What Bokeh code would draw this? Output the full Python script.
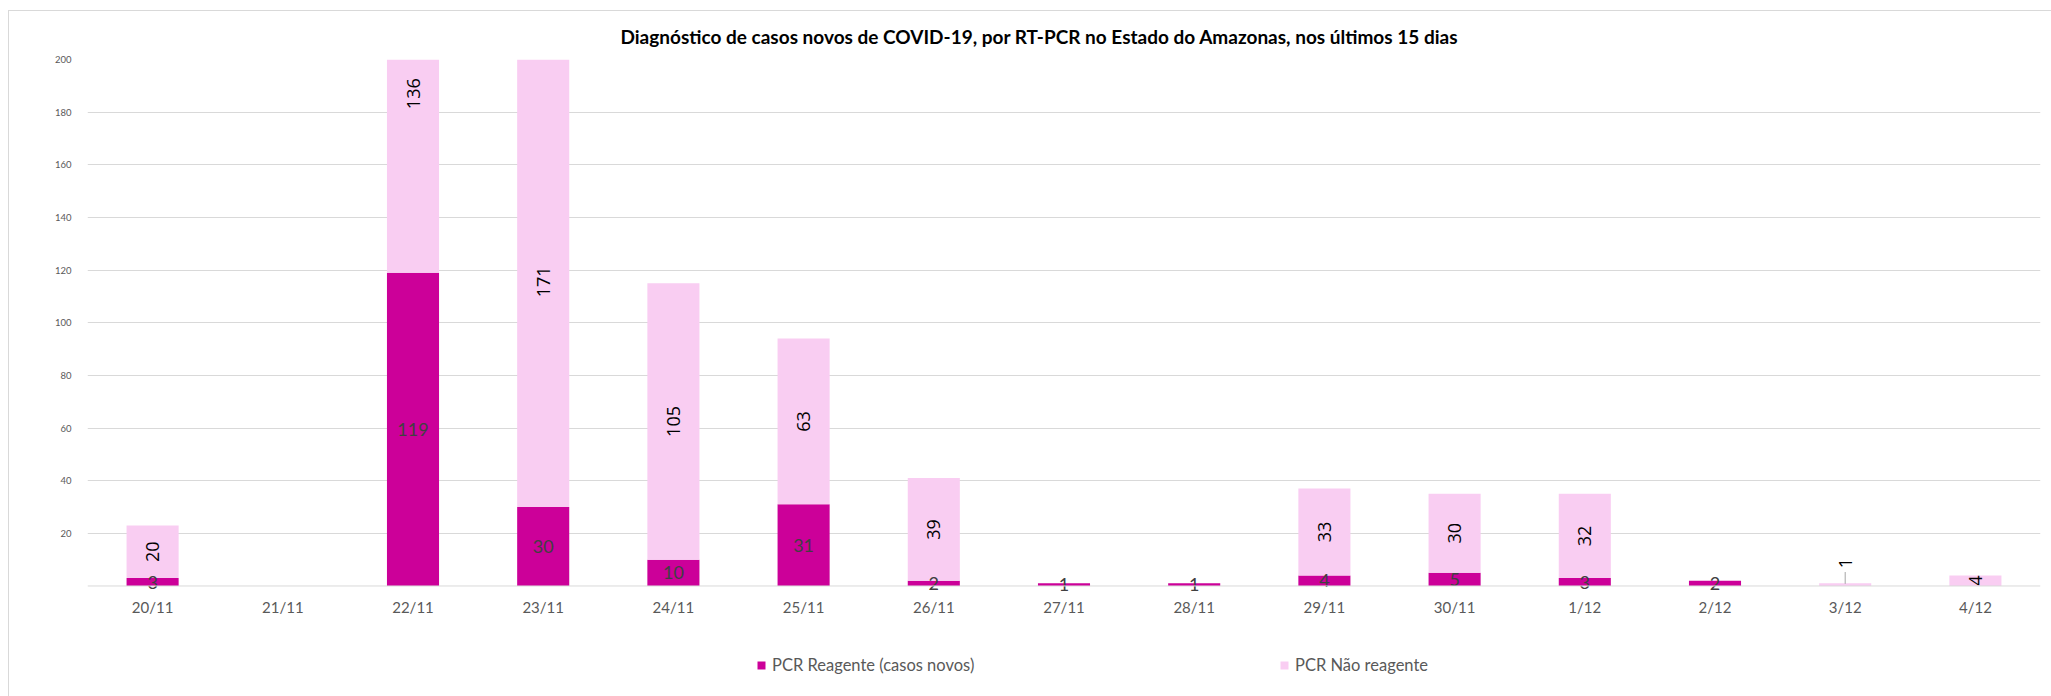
from math import pi
from bokeh.plotting import figure
from bokeh.layouts import column
from bokeh.models import (ColumnDataSource, FactorRange, Range1d, FixedTicker, Title,
                          Legend, LegendItem, Span)
from bokeh.core.properties import value
from bokeh.embed import file_html
from bokeh.resources import INLINE

# ---- data ----
dates = ["20/11", "21/11", "22/11", "23/11", "24/11", "25/11", "26/11", "27/11",
         "28/11", "29/11", "30/11", "1/12", "2/12", "3/12", "4/12"]
reagente = [3, 0, 119, 30, 10, 31, 2, 1, 1, 4, 5, 3, 2, 0, 0]
nao_reagente = [20, 0, 136, 171, 105, 63, 39, 0, 0, 33, 30, 32, 0, 1, 4]
y_ticks = [20, 40, 60, 80, 100, 120, 140, 160, 180, 200]
series_names = ["PCR Reagente (casos novos)", "PCR Não reagente"]
title_text = "Diagnóstico de casos novos de COVID-19, por RT-PCR no Estado do Amazonas, nos últimos 15 dias"

# ---- style ----
C_REAG = "#CC0099"
C_NAO = "#F9CDF2"
GRID = "#D9D9D9"
TXT = "#595959"
FONT = "Lato"

W = 2042
p = figure(x_range=FactorRange(*dates), y_range=Range1d(-4, 200),
           width=W, height=629, output_backend="svg", toolbar_location=None,
           min_border_left=78, min_border_right=11, min_border_top=47, min_border_bottom=44)
p.title.visible = False
p.outline_line_color = None
p.background_fill_color = "white"
p.border_fill_color = "white"

src = ColumnDataSource(dict(dates=dates, reagente=reagente, nao=nao_reagente))
rs = p.vbar_stack(["reagente", "nao"], x="dates", width=0.4, source=src,
                  color=[C_REAG, C_NAO], line_color=None)

# axes
p.xaxis.axis_line_color = None
p.xaxis.major_tick_line_color = None
p.xaxis.minor_tick_line_color = None
p.xaxis.major_label_text_color = TXT
p.xaxis.major_label_text_font = FONT
p.xaxis.major_label_text_font_size = "15px"
p.xaxis.major_label_standoff = -5
p.xgrid.grid_line_color = None
p.add_layout(Span(location=0, dimension="width", line_color=GRID, line_width=1))

p.yaxis.ticker = FixedTicker(ticks=y_ticks)
p.yaxis.axis_line_color = None
p.yaxis.major_tick_line_color = None
p.yaxis.minor_tick_line_color = None
p.yaxis.major_label_text_color = TXT
p.yaxis.major_label_text_font = FONT
p.yaxis.major_label_text_font_size = "9.5px"
p.yaxis.major_label_standoff = 10
p.ygrid.ticker = FixedTicker(ticks=y_ticks)
p.ygrid.grid_line_color = GRID
p.ygrid.grid_line_width = 1

# data labels: reagente (horizontal, centred in segment)
rx, ry, rt = [], [], []
for d, r in zip(dates, reagente):
    if r > 0:
        rx.append(d); ry.append(r / 2); rt.append(str(r))
p.text(x=rx, y=ry, text=rt, text_align="center", text_baseline="middle",
       text_color="#404040", text_font=value(FONT), text_font_size="18px")

# data labels: não reagente (rotated, centred in segment)
nx, ny, nt = [], [], []
lx, ly0, ly1 = [], [], []
for d, r, n in zip(dates, reagente, nao_reagente):
    if n > 0:
        top = r + n
        if n <= 1:
            nx.append(d); ny.append(top + 7.7); nt.append(str(n))
            lx.append(d); ly0.append(top - 0.2); ly1.append(top + 4.3)
        else:
            nx.append(d); ny.append(r + n / 2); nt.append(str(n))
p.segment(x0=lx, y0=ly0, x1=lx, y1=ly1, line_color="#A6A6A6", line_width=1)
p.text(x=nx, y=ny, text=nt, angle=pi / 2, text_align="center", text_baseline="middle",
       text_color="#000000", text_font=value("Open Sans"), text_font_size="18px")

# title
p.add_layout(Title(text=title_text, align="left", offset=533, standoff=23,
                   text_font=FONT, text_font_style="bold", text_font_size="19px",
                   text_color="#000000"), "above")

# legend strip (own small figure, same series colours; swatch glyphs sit outside its view)
lf = figure(width=W, height=56, output_backend="svg", toolbar_location=None,
            x_range=Range1d(0, 1), y_range=Range1d(0, 1), min_border=0,
            x_axis_type=None, y_axis_type=None)
lf.grid.grid_line_color = None
lf.outline_line_color = None
lf.title.visible = False
for name, col, xloc in zip(series_names, [C_REAG, C_NAO], [669, 1192]):
    g = lf.vbar(x=[-5], top=[-5], width=0.1, color=col, line_color=None)
    lg = Legend(items=[LegendItem(label=name, renderers=[g])], location=(xloc, 21),
                orientation="horizontal", padding=0, margin=0, border_line_color=None,
                background_fill_alpha=0, glyph_width=10, glyph_height=10,
                label_text_font=FONT, label_text_font_size="16.5px", label_text_color=TXT,
                label_standoff=6, label_height=18)
    lf.add_layout(lg)

layout = column(p, lf, spacing=0,
                styles={"margin-left": "8px", "margin-top": "10px",
                        "border-left": "1px solid #D9D9D9", "border-top": "1px solid #D9D9D9"})

open("out.html", "w").write(file_html(layout, INLINE))
